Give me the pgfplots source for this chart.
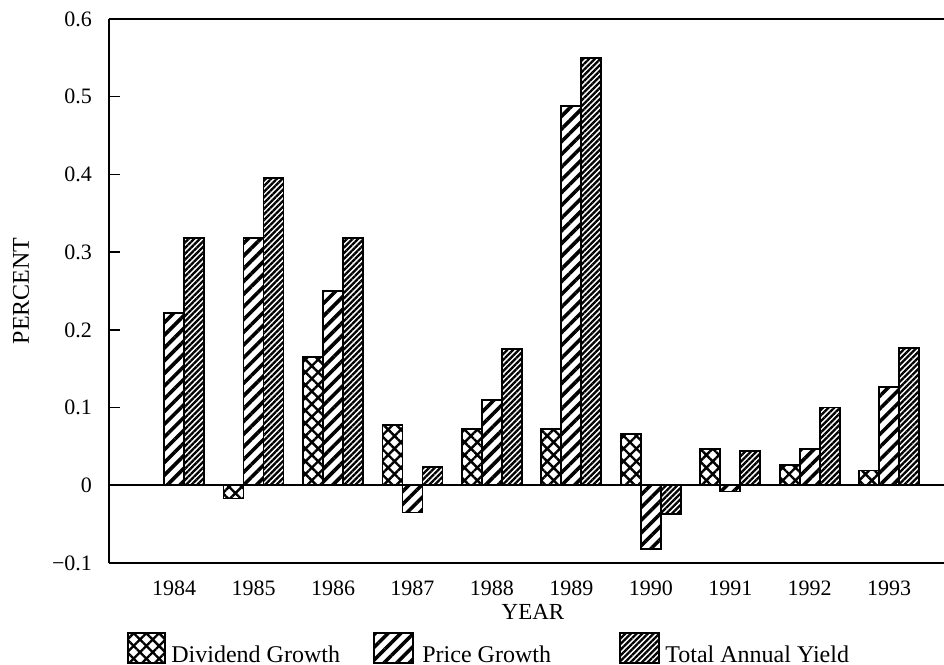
\documentclass[border=0pt]{standalone}
\usepackage{fontspec}
\setmainfont{Liberation Serif}
\usepackage{pgfplots}
\pgfplotsset{compat=1.18}
\usetikzlibrary{patterns.meta}

\tikzset{
  divpat/.style={pattern={Hatch[angle=45,distance=4.5pt,line width=1.2pt]}},
  pricepat/.style={pattern={Lines[angle=45,distance=4.5pt,line width=1.8pt]}},
  totalpat/.style={pattern={Lines[angle=45,distance=2pt,line width=1.15pt]}},
}

\begin{document}
\begin{tikzpicture}
\useasboundingbox (-54.5pt,-51pt) rectangle (417.5pt,281.5pt);
\begin{axis}[
  scale only axis, width=417.5pt, height=272pt,
  xmin=-0.82, xmax=9.69, ymin=-0.1, ymax=0.6,
  axis x line=box, axis y line=left,
  axis line style={-, line width=1.2pt},
  ytick={-0.1,0,0.1,0.2,0.3,0.4,0.5,0.6},
  yticklabels={−0.1,0,0.1,0.2,0.3,0.4,0.5,0.6},
  xtick={0,1,2,3,4,5,6,7,8,9},
  xticklabels={1984,1985,1986,1987,1988,1989,1990,1991,1992,1993},
  xtick pos=left,
  major x tick style={draw=none},
  major y tick style={black, line width=0.7pt},
  tick align=inside, major tick length=5.5pt,
  ticklabel style={font=\fontsize{11}{12}\selectfont},
  yticklabel style={xshift=-5pt},
  xticklabel style={yshift=0pt},
  ybar=0pt, bar width=10pt,
]
\draw[line width=0.8pt] (axis cs:-0.82,0) -- (axis cs:9.69,0);
\addplot[draw=black, line width=0.9pt, divpat] coordinates {
 (1,-0.017) (2,0.165) (3,0.078) (4,0.072) (5,0.072) (6,0.066) (7,0.047) (8,0.026) (9,0.019)};
\addplot[draw=black, line width=0.9pt, pricepat] coordinates {
 (0,0.222) (1,0.318) (2,0.250) (3,-0.035) (4,0.110) (5,0.488) (6,-0.082) (7,-0.008) (8,0.047) (9,0.126)};
\addplot[draw=black, line width=0.9pt, totalpat] coordinates {
 (0,0.318) (1,0.395) (2,0.318) (3,0.024) (4,0.175) (5,0.550) (6,-0.037) (7,0.044) (8,0.100) (9,0.177)};
\end{axis}
\node[rotate=90, font=\fontsize{12}{14}\selectfont] at (-44pt,136pt) {PERCENT};
\node[font=\fontsize{11.5}{13}\selectfont] at (212pt,-24.5pt) {YEAR};
\draw[line width=0.9pt, divpat] (9.5pt,-50pt) rectangle (28pt,-35pt);
\node[anchor=base west, inner sep=0pt, font=\fontsize{12}{14}\selectfont] at (31pt,-49.5pt) {Dividend Growth};
\draw[line width=0.9pt, pricepat] (132.5pt,-50pt) rectangle (152pt,-35pt);
\node[anchor=base west, inner sep=0pt, font=\fontsize{12}{14}\selectfont] at (156.5pt,-49.5pt) {Price Growth};
\draw[line width=0.9pt, totalpat] (255.5pt,-50pt) rectangle (275pt,-35pt);
\node[anchor=base west, inner sep=0pt, font=\fontsize{12}{14}\selectfont] at (278pt,-49.5pt) {Total Annual Yield};
\end{tikzpicture}
\end{document}
